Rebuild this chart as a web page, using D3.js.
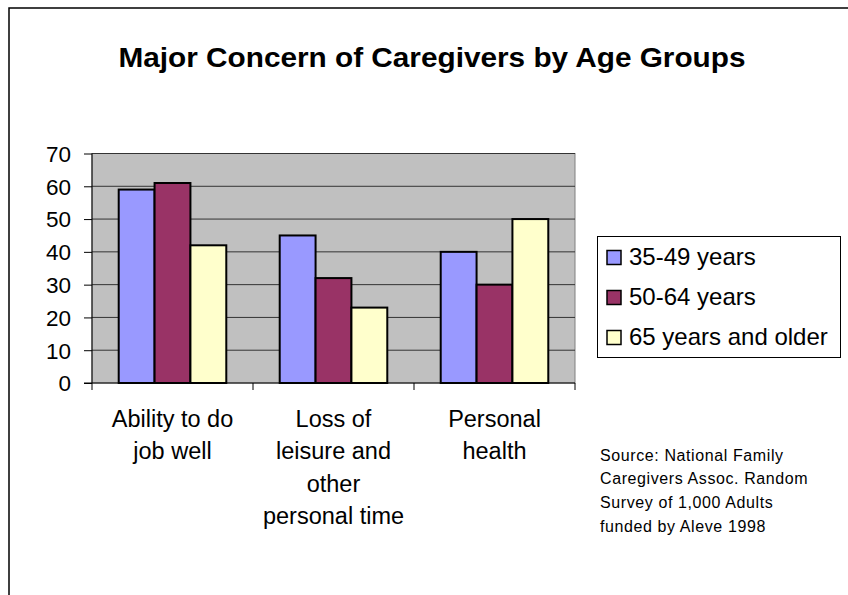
<!DOCTYPE html>
<html>
<head>
<meta charset="utf-8">
<script src="https://cdn.jsdelivr.net/npm/d3@7"></script>
<style>
  html, body { margin: 0; padding: 0; background: #fff; }
  svg { display: block; font-family: Arial, "Liberation Sans", sans-serif; }
</style>
</head>
<body>
<svg id="chart" width="848" height="595"></svg>
<script>
const categories = [
  ["Ability to do", "job well"],
  ["Loss of", "leisure and", "other", "personal time"],
  ["Personal", "health"]
];
const seriesNames = ["35-49 years", "50-64 years", "65 years and older"];
const series1 = [59, 61, 42];
const series2 = [45, 32, 23];
const series3 = [40, 30, 50];
// values per category: [35-49, 50-64, 65+]
const seriesByCategory = [series1, series2, series3];
const colors = ["#9999FF", "#993366", "#FFFFCC"];
const yTicks = [0, 10, 20, 30, 40, 50, 60, 70];
const title = "Major Concern of Caregivers by Age Groups";
const sourceLines = ["Source: National Family", "Caregivers Assoc. Random", "Survey of 1,000 Adults", "funded by Aleve 1998"];

const svg = d3.select("#chart");

// outer border
svg.append("rect").attr("x", 9).attr("y", 8).attr("width", 900).attr("height", 700)
  .attr("fill", "#fff").attr("stroke", "#000").attr("stroke-width", 1.5);

const plot = { left: 92, top: 153.5, right: 575, bottom: 383 };

const x0 = d3.scaleBand().domain(d3.range(categories.length))
  .range([plot.left, plot.right]).paddingInner(0).paddingOuter(0);
const x1 = d3.scaleBand().domain(d3.range(seriesNames.length))
  .range([0, x0.bandwidth()]).paddingOuter(0.745).paddingInner(0);
const y = d3.scaleLinear().domain([0, 70]).range([plot.bottom, plot.top]);

// title
svg.append("text").attr("x", 118.5).attr("y", 67)
  .attr("font-size", 27.5).attr("font-weight", "bold")
  .attr("textLength", 627).attr("lengthAdjust", "spacingAndGlyphs").text(title);

// plot background
svg.append("rect").attr("x", plot.left).attr("y", plot.top)
  .attr("width", plot.right - plot.left).attr("height", plot.bottom - plot.top)
  .attr("fill", "#C0C0C0").attr("stroke", "#808080").attr("stroke-width", 1);

// gridlines
svg.append("g").selectAll("line").data(yTicks.filter(t => t > 0)).join("line")
  .attr("x1", plot.left).attr("x2", plot.right)
  .attr("y1", d => y(d)).attr("y2", d => y(d))
  .attr("stroke", "#333").attr("stroke-width", 1);

// bars
const groups = svg.append("g").selectAll("g").data(seriesByCategory).join("g")
  .attr("transform", (d, i) => `translate(${x0(i)},0)`);
groups.selectAll("rect").data(d => d).join("rect")
  .attr("x", (d, j) => x1(j))
  .attr("y", d => y(d))
  .attr("width", x1.bandwidth())
  .attr("height", d => y(0) - y(d))
  .attr("fill", (d, j) => colors[j])
  .attr("stroke", "#000").attr("stroke-width", 2);

// y axis
const yAxis = d3.axisLeft(y).tickValues(yTicks).tickSize(8).tickPadding(13);
const gy = svg.append("g").attr("transform", `translate(${plot.left},0)`).call(yAxis);
gy.select(".domain").attr("stroke", "#000").attr("d", `M0,${plot.top}V${plot.bottom}`);
gy.selectAll(".tick line").attr("stroke", "#000");
gy.selectAll(".tick text").attr("font-size", 22.5).attr("fill", "#000")
  .attr("font-family", "Arial, 'Liberation Sans', sans-serif").attr("dy", "0.35em");

// x axis
const gx = svg.append("g").attr("transform", `translate(0,${plot.bottom})`);
gx.append("line").attr("x1", plot.left - 8).attr("x2", plot.right)
  .attr("y1", 0).attr("y2", 0).attr("stroke", "#000").attr("stroke-width", 1);
const boundaries = d3.range(categories.length + 1).map(i => i < categories.length ? x0(i) : x0(i - 1) + x0.bandwidth());
gx.selectAll("line.tk").data(boundaries).join("line").attr("class", "tk")
  .attr("x1", d => d).attr("x2", d => d).attr("y1", 0).attr("y2", 7)
  .attr("stroke", "#000");

// x labels
categories.forEach((lines, i) => {
  const cx = x0(i) + x0.bandwidth() / 2;
  const t = svg.append("text").attr("text-anchor", "middle").attr("font-size", 23.5);
  lines.forEach((ln, k) => {
    t.append("tspan").attr("x", cx).attr("y", 427 + k * 32.3).text(ln);
  });
});

// legend
const lg = svg.append("g");
lg.append("rect").attr("x", 597.5).attr("y", 236.5).attr("width", 243).attr("height", 121)
  .attr("fill", "#fff").attr("stroke", "#000").attr("stroke-width", 1);
seriesNames.forEach((name, i) => {
  const cy = 257.5 + i * 40;
  lg.append("rect").attr("x", 607).attr("y", cy - 7).attr("width", 14).attr("height", 14)
    .attr("fill", colors[i]).attr("stroke", "#000").attr("stroke-width", 1.5);
  lg.append("text").attr("x", 629).attr("y", cy + 7.5).attr("font-size", 24).text(name);
});

// source
sourceLines.forEach((ln, k) => {
  svg.append("text").attr("font-size", 16).attr("letter-spacing", 0.6)
    .attr("x", 600).attr("y", 460.5 + k * 23.7).text(ln);
});
</script>
</body>
</html>
